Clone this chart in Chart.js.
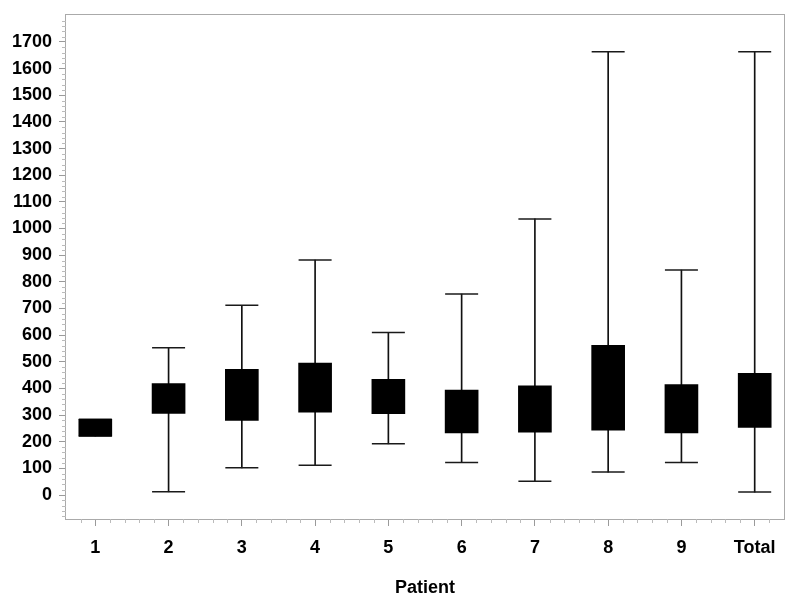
<!DOCTYPE html>
<html>
<head>
<meta charset="utf-8">
<title>Patient box plot</title>
<script src="https://cdn.jsdelivr.net/npm/chart.js@4/dist/chart.umd.min.js"></script>
<style>
  body { margin: 0; background: #fff; }
  #wrap { width: 800px; height: 606px; }
</style>
</head>
<body>
<div id="wrap"><canvas id="boxChart" width="800" height="606"></canvas></div>
<script>
// Data
const categories = ['1', '2', '3', '4', '5', '6', '7', '8', '9', 'Total'];
const positions = [1, 2, 3, 4, 5, 6, 7, 8, 9, 10];
const minValues = [221, 12, 102, 112, 192, 122, 52, 86, 122, 11];
const q1Values = [221, 306, 280, 311, 305, 233, 236, 243, 233, 254];
const q3Values = [284, 418, 472, 495, 434, 394, 410, 562, 414, 457];
const maxValues = [284, 553, 712, 882, 610, 754, 1036, 1663, 844, 1663];
const yTicks = [0, 100, 200, 300, 400, 500, 600, 700, 800, 900, 1000, 1100, 1200, 1300, 1400, 1500, 1600, 1700];

// Styles
const FONT = '"Liberation Sans", Arial, Helvetica, sans-serif';
const frameColor = '#aaaaaa';
const tickColor = '#9a9a9a';

// Build datasets from the arrays
const whiskerData = positions.map((x, i) => ({ x: x, y: [minValues[i], maxValues[i]] }));
const boxData = positions.map((x, i) => ({ x: x, y: [q1Values[i], q3Values[i]] }));
const capData = positions.map((x, i) => ({ x: x, y: minValues[i] }))
  .concat(positions.map((x, i) => ({ x: x, y: maxValues[i] })));

// Frame + minor ticks (axis decoration only)
const framePlugin = {
  id: 'frame',
  afterDraw(chart) {
    const ctx = chart.ctx;
    const area = chart.chartArea;
    const xs = chart.scales.x;
    const ys = chart.scales.y;
    ctx.save();
    ctx.strokeStyle = frameColor;
    ctx.lineWidth = 1;
    ctx.strokeRect(Math.round(area.left) - 0.5, Math.round(area.top) + 0.5,
      Math.round(area.right - area.left) + 1, Math.round(area.bottom - area.top));

    ctx.strokeStyle = '#bbbbbb';
    ctx.beginPath();
    // y minor ticks every 20
    for (let v = -80; v <= 1800; v += 20) {
      if (v % 100 === 0) continue;
      const py = Math.round(ys.getPixelForValue(v)) + 0.5;
      ctx.moveTo(area.left - 4, py);
      ctx.lineTo(area.left, py);
    }
    // x minor ticks every 0.2
    for (let k = 4; k <= 51; k++) {
      if (k % 5 === 0) continue;
      const px = Math.round(xs.getPixelForValue(k / 5)) + 0.5;
      ctx.moveTo(px, area.bottom);
      ctx.lineTo(px, area.bottom + 4);
    }
    ctx.stroke();
    ctx.restore();
  }
};

const ctx = document.getElementById('boxChart').getContext('2d');

new Chart(ctx, {
  type: 'bar',
  data: {
    datasets: [{
      type: 'bar',
      data: whiskerData,
      backgroundColor: '#111111',
      barThickness: 1,
      grouped: false,
      order: 3
    }, {
      type: 'scatter',
      data: capData,
      pointStyle: 'line',
      radius: 16.5,
      borderColor: '#1a1a1a',
      borderWidth: 1.5,
      order: 2
    }, {
      type: 'bar',
      data: boxData,
      backgroundColor: '#000000',
      barThickness: 33,
      grouped: false,
      order: 1
    }]
  },
  options: {
    responsive: false,
    animation: false,
    layout: { autoPadding: false, padding: { top: 14, right: 16, left: 0, bottom: 0 } },
    plugins: {
      legend: { display: false },
      tooltip: { enabled: false }
    },
    scales: {
      x: {
        type: 'linear',
        min: 0.6,
        max: 10.4,
        offset: false,
        afterFit(scale) {
          scale.height = 87;
          scale.paddingLeft = 0;
          scale.paddingRight = 0;
        },
        afterBuildTicks(scale) { scale.ticks = positions.map(v => ({ value: v })); },
        ticks: {
          autoSkip: false,
          maxRotation: 0,
          padding: 11,
          color: '#000',
          font: { family: FONT, size: 18, weight: 'bold' },
          callback: (value) => categories[positions.indexOf(value)]
        },
        grid: { offset: false, drawOnChartArea: false, tickLength: 7, tickColor: tickColor },
        border: { display: false },
        title: {
          display: true,
          text: 'Patient',
          color: '#000',
          font: { family: FONT, size: 18, weight: 'bold' },
          padding: { top: 0, bottom: 7 }
        }
      },
      y: {
        min: -90,
        max: 1805,
        afterFit(scale) {
          scale.width = 66;
          scale.paddingTop = 0;
          scale.paddingBottom = 0;
        },
        afterBuildTicks(scale) { scale.ticks = yTicks.map(v => ({ value: v })); },
        ticks: {
          autoSkip: false,
          padding: 7,
          color: '#000',
          font: { family: FONT, size: 18, weight: 'bold' },
          callback: (value) => String(value)
        },
        grid: { drawOnChartArea: false, tickLength: 7, tickColor: tickColor },
        border: { display: false }
      }
    }
  },
  plugins: [framePlugin]
});
</script>
</body>
</html>
